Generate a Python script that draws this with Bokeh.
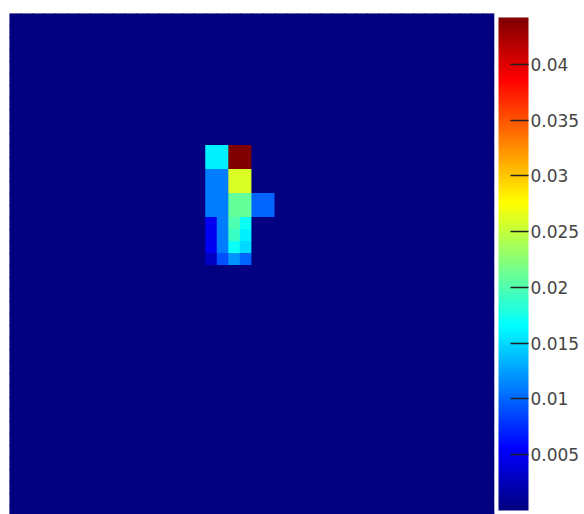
from bokeh.plotting import figure
from bokeh.models import (ColumnDataSource, LinearColorMapper, ColorBar, FixedTicker, Range1d)
from bokeh.embed import file_html
from bokeh.resources import INLINE

# ---- data ----
n_rows = 42
n_cols = 42
background_value = 0.0
vmin = 0.0
vmax = 0.0442

hot_rows = [11, 11, 11, 11, 12, 12, 12, 12,
            13, 13, 13, 13, 14, 14, 14, 14,
            15, 15, 15, 15, 15, 15, 16, 16, 16, 16, 16, 16,
            17, 17, 17, 17, 18, 18, 18, 18, 19, 19, 19, 19, 20, 20, 20, 20]
hot_cols = [17, 18, 19, 20, 17, 18, 19, 20,
            17, 18, 19, 20, 17, 18, 19, 20,
            17, 18, 19, 20, 21, 22, 17, 18, 19, 20, 21, 22,
            17, 18, 19, 20, 17, 18, 19, 20, 17, 18, 19, 20, 17, 18, 19, 20]
hot_vals = [0.016, 0.016, 0.0442, 0.0442, 0.016, 0.016, 0.0442, 0.0442,
            0.011, 0.011, 0.026, 0.026, 0.011, 0.011, 0.026, 0.026,
            0.011, 0.011, 0.021, 0.021, 0.010, 0.010, 0.011, 0.011, 0.021, 0.021, 0.010, 0.010,
            0.005, 0.011, 0.020, 0.017, 0.005, 0.011, 0.019, 0.016, 0.005, 0.011, 0.017, 0.015,
            0.003, 0.009, 0.012, 0.010]

tick_values = [0.005, 0.01, 0.015, 0.02, 0.025, 0.03, 0.035, 0.04]
tick_labels = ["0.005", "0.01", "0.015", "0.02", "0.025", "0.03", "0.035", "0.04"]


# ---- jet colormap ----
def jet(n=256):
    cols = []
    for i in range(n):
        t = i / (n - 1)
        r = min(max(min(4 * t - 1.5, -4 * t + 4.5), 0), 1)
        g = min(max(min(4 * t - 0.5, -4 * t + 3.5), 0), 1)
        b = min(max(min(4 * t + 0.5, -4 * t + 2.5), 0), 1)
        cols.append("#%02x%02x%02x" % (int(round(r * 255)), int(round(g * 255)), int(round(b * 255))))
    return cols


palette = jet(256)

grid = [[background_value] * n_cols for _ in range(n_rows)]
for r, c, v in zip(hot_rows, hot_cols, hot_vals):
    grid[r][c] = v

xs, ys, vs = [], [], []
for r in range(n_rows):
    for c in range(n_cols):
        xs.append(c + 0.5)
        ys.append(r + 0.5)
        vs.append(grid[r][c])

source = ColumnDataSource(data=dict(x=xs, y=ys, value=vs))
mapper = LinearColorMapper(palette=palette, low=vmin, high=vmax)

p = figure(frame_width=485, frame_height=501,
           x_range=Range1d(0, 42), y_range=Range1d(41.75, 0),
           output_backend="svg", toolbar_location=None,
           min_border_left=9, min_border_top=13, min_border_bottom=0, min_border_right=0)
p.axis.visible = False
p.grid.visible = False
p.outline_line_color = "#d4d4e4"
p.background_fill_color = palette[0]
p.border_fill_color = "white"

p.rect(x="x", y="y", width=1.1, height=1.1, source=source,
       fill_color={"field": "value", "transform": mapper},
       line_color=None)

cb = ColorBar(color_mapper=mapper, ticker=FixedTicker(ticks=tick_values),
              major_label_overrides={v: s for v, s in zip(tick_values, tick_labels)},
              width=30, padding=4, margin=0, label_standoff=2,
              major_tick_in=18, major_tick_out=0,
              major_tick_line_color="#222222", major_tick_line_width=1.5,
              minor_tick_line_color=None, bar_line_color=None, border_line_color=None,
              major_label_text_font="DejaVu Sans", major_label_text_font_size="17px",
              major_label_text_color="#444444", background_fill_color="white")
p.add_layout(cb, "right")

open("out.html", "w").write(file_html(p, INLINE))
